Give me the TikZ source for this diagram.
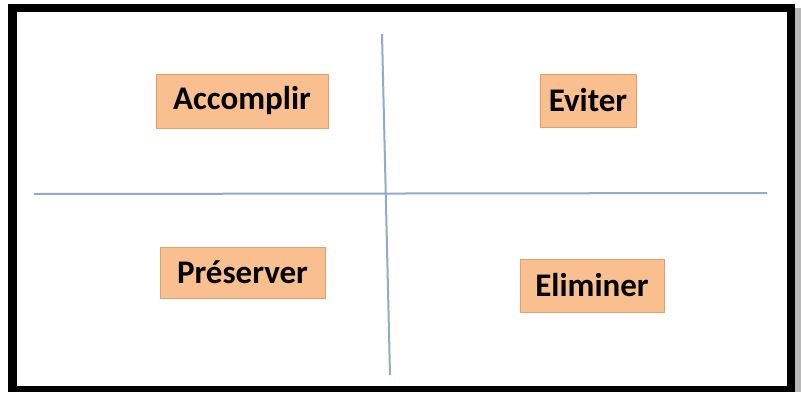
\documentclass[tikz,border=0pt]{standalone}
\usepackage{fontspec}
\setmainfont{Carlito}
\definecolor{peach}{HTML}{F9BF8F}
\definecolor{peachedge}{HTML}{E3A06C}
\definecolor{axisblue}{HTML}{93ABC9}
\definecolor{shadowgray}{HTML}{B8B8B8}
\tikzset{
  labelbox/.style={draw=peachedge, line width=0.8pt, fill=peach, inner sep=0pt,
    font=\fontsize{33}{38}\selectfont\bfseries, text=black},
  axisline/.style={draw=axisblue, line width=2pt}
}
\begin{document}
\begin{tikzpicture}[x=1pt,y=-1pt]
\useasboundingbox (0,0) rectangle (801,392);
\fill[white] (0,0) rectangle (801,392);
% shadow and frame
\fill[shadowgray] (795,8) rectangle (801,392);
\fill[black] (8,4) rectangle (795,392);
\fill[white] (17,12) rectangle (787,386);
% axes
\coordinate (vtop) at (382,34);
\coordinate (vbot) at (390,375);
\coordinate (hleft) at (34,194);
\coordinate (hright) at (767,193);
\draw[axisline] (vtop) -- (vbot);
\draw[axisline] (hleft) -- (hright);
% labels
\node[labelbox, minimum width=172pt, minimum height=54pt] (acc) at (242,101) {Accomplir};
\node[labelbox, minimum width=96pt, minimum height=53pt] (evi) at (588,100.5) {Eviter};
\node[labelbox, minimum width=165pt, minimum height=51pt] (pre) at (242.5,272.5) {Préserver};
\node[labelbox, minimum width=144pt, minimum height=53pt] (eli) at (592,285.5) {Eliminer};
\end{tikzpicture}
\end{document}
